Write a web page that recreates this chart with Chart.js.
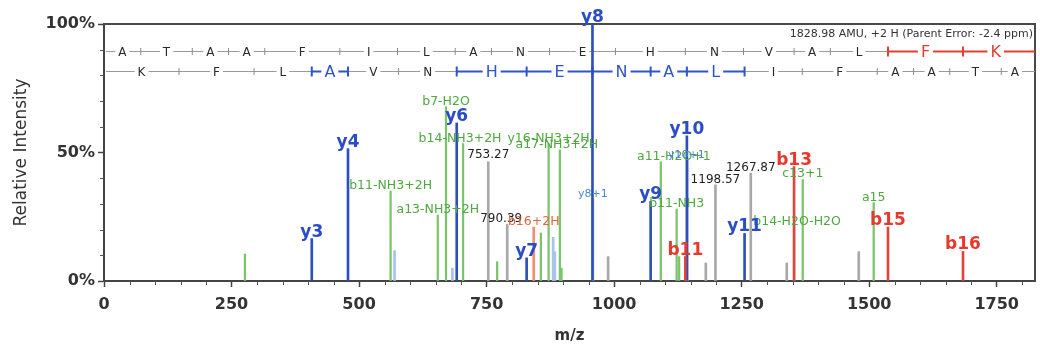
<!DOCTYPE html>
<html>
<head>
<meta charset="utf-8">
<script src="https://cdn.jsdelivr.net/npm/chart.js@4/dist/chart.umd.min.js"></script>
<style>
  html, body { margin: 0; padding: 0; background: #fff; }
</style>
</head>
<body>
<canvas id="spectrum" width="1040" height="349"></canvas>
<script>
// Peaks: m/z and relative intensity (%)
const yIonMz = [407.27, 478.30, 691.41, 828.47, 957.52, 1071.56, 1142.60, 1255.68];
const yIonInt = [16.5, 51.5, 61.5, 9, 100, 31, 56.5, 18.5];
const yIonName = ['y3', 'y4', 'y6', 'y7', 'y8', 'y9', 'y10', 'y11'];

const bIonMz = [1139.58, 1352.69, 1536.81, 1683.88];
const bIonInt = [9.5, 44.5, 21, 11.5];
const bIonName = ['b11', 'b13', 'b15', 'b16'];

const doubleMz = [842.4];
const doubleInt = [21];
const doubleName = ['b16+2H'];

const lossMz = [276.3, 561.8, 654.3, 670.4, 703.85, 770.7, 856.4, 871.5, 893.6, 896.9, 1091.5, 1122.55, 1127.4, 1352.69, 1369.72, 1508.8];
const lossInt = [10.5, 35, 25.7, 67.8, 53.5, 7.5, 18.7, 53.5, 51, 5, 46.4, 28, 9.5, 21, 39.5, 30.5];
const lossName = ['', 'b11-NH3+2H', 'a13-NH3+2H', 'b7-H2O', 'b14-NH3+2H', '', '', 'y16-NH3+2H', 'a17-NH3+2H', '', 'a11-H2O+1', 'b11-NH3', '', 'b14-H2O-H2O', 'c13+1', 'a15'];

const isoMz = [569.6, 683.0, 880.5, 883.8, 958.52, 1143.60];
const isoInt = [11.8, 5, 17, 11.4, 32, 47];
const isoName = ['', '', '', '', 'y8+1', 'y10+1'];

const otherMz = [753.27, 790.39, 988.2, 1179.7, 1198.57, 1267.87, 1338.4, 1479.5];
const otherInt = [46.4, 22, 9.5, 7, 37.4, 42, 7, 11.4];
const otherName = ['753.27', '790.39', '', '', '1198.57', '1267.87', '', ''];

// Sequence ladders
const seqTop = ['A', 'T', 'A', 'A', 'F', 'I', 'L', 'A', 'N', 'E', 'H', 'N', 'V', 'A', 'L', 'F', 'K'];
const seqBottom = ['K', 'F', 'L', 'A', 'V', 'N', 'H', 'E', 'N', 'A', 'L', 'I', 'F', 'A', 'A', 'T', 'A'];
const bLadder = [72.04, 173.09, 244.13, 315.16, 462.23, 575.32, 688.40, 759.44, 873.48, 1002.52, 1139.58, 1253.63, 1352.69, 1423.73, 1536.81, 1683.88];
const yLadder = [147.11, 294.18, 407.27, 478.30, 577.37, 691.41, 828.47, 957.52, 1071.56, 1142.60, 1255.68, 1368.76, 1515.83, 1586.87, 1657.91, 1758.96];
const ladderEnd = 1812.0;
const topCovered = [15, 16];
const bottomCovered = [3, 6, 7, 8, 9, 10];

const xTicks = [0, 250, 500, 750, 1000, 1250, 1500, 1750];
const parentNote = '1828.98 AMU, +2 H (Parent Error: -2.4 ppm)';

const FONT = '"DejaVu Sans", sans-serif';

// small label nudges so overlapping names sit like the original
const labelShift = {
    'b14-NH3+2H': [-3, 0],
    'a17-NH3+2H': [-3, 0],
    'a11-H2O+1': [13, 0],
    'y10+1': [-1, 0],
    '790.39': [-6, 0],
    'b14-H2O-H2O': [3, 0],
    '753.27': [0, -2]
};

function peakSet(mz, intensity, color, order, width) {
    return {
        data: mz.map((m, i) => ({ x: m, y: intensity[i] })),
        backgroundColor: color,
        barThickness: width,
        grouped: false,
        order: order
    };
}

function drawLadder(ctx, xs, area, yPos, letters, ladder, covered, hi) {
    const edges = [0, ...ladder, ladderEnd].map(v => xs.getPixelForValue(v));
    ctx.strokeStyle = '#9a9a9a';
    ctx.lineWidth = 1;
    ctx.beginPath();
    ctx.moveTo(area.left + 2, yPos);
    ctx.lineTo(area.right, yPos);
    ctx.stroke();

    // coloured runs
    ctx.strokeStyle = hi;
    ctx.lineWidth = 2;
    covered.forEach(i => {
        const x1 = i === letters.length - 1 ? area.right : edges[i + 1];
        ctx.beginPath();
        ctx.moveTo(edges[i], yPos);
        ctx.lineTo(x1, yPos);
        ctx.stroke();
    });

    // cleavage ticks
    for (let e = 1; e <= ladder.length; e++) {
        const on = covered.includes(e - 1) || covered.includes(e);
        ctx.strokeStyle = on ? hi : '#8a8a8a';
        ctx.lineWidth = on ? 2 : 1;
        const h = on ? 5 : 3.5;
        ctx.beginPath();
        ctx.moveTo(edges[e], yPos - h);
        ctx.lineTo(edges[e], yPos + h);
        ctx.stroke();
    }

    // residues
    ctx.textAlign = 'center';
    ctx.textBaseline = 'middle';
    letters.forEach((ch, i) => {
        const cx = (edges[i] + edges[i + 1]) / 2;
        const on = covered.includes(i);
        ctx.font = (on ? '16px ' : '12px ') + FONT;
        const w = ctx.measureText(ch).width;
        ctx.fillStyle = '#fff';
        ctx.fillRect(cx - w / 2 - 3, yPos - 4, w + 6, 8);
        ctx.fillStyle = on ? hi : '#2a2a2a';
        ctx.fillText(ch, cx, yPos + 1);
    });
}

const spectrumDecor = {
    id: 'spectrumDecor',
    beforeDatasetsDraw(chart) {
        const { ctx, chartArea: a, scales: { x, y } } = chart;
        ctx.save();

        // frame top and right
        ctx.strokeStyle = '#4a4a4a';
        ctx.lineWidth = 2;
        ctx.beginPath();
        ctx.moveTo(a.left, a.top);
        ctx.lineTo(a.right, a.top);
        ctx.lineTo(a.right, a.bottom);
        ctx.stroke();

        // minor ticks
        ctx.strokeStyle = '#555';
        ctx.lineWidth = 1;
        for (let v = 10; v < 100; v += 10) {
            if (v === 50) continue;
            const py = Math.round(y.getPixelForValue(v)) + 0.5;
            ctx.beginPath();
            ctx.moveTo(a.left - 4, py);
            ctx.lineTo(a.left, py);
            ctx.stroke();
        }
        for (let v = 50; v < x.max; v += 50) {
            if (v % 250 === 0) continue;
            const px = Math.round(x.getPixelForValue(v)) + 0.5;
            ctx.beginPath();
            ctx.moveTo(px, a.bottom);
            ctx.lineTo(px, a.bottom + 4);
            ctx.stroke();
        }

        // parent mass note
        ctx.font = '11px ' + FONT;
        ctx.fillStyle = '#333';
        ctx.textAlign = 'right';
        ctx.textBaseline = 'middle';
        ctx.fillText(parentNote, a.right - 2, a.top + 10);

        drawLadder(ctx, x, a, a.top + 27.5, seqTop, bLadder, topCovered, '#e2402f');
        drawLadder(ctx, x, a, a.top + 47.5, seqBottom, yLadder, bottomCovered, '#2f55c8');
        ctx.restore();
    },
    afterDatasetsDraw(chart) {
        const { ctx, scales: { x, y } } = chart;
        const groups = [
            [otherMz, otherInt, otherName, '12px ' + FONT, '#1e1e1e'],
            [lossMz, lossInt, lossName, '12.5px ' + FONT, '#4fa83f'],
            [isoMz, isoInt, isoName, '11px ' + FONT, '#4a86e0'],
            [doubleMz, doubleInt, doubleName, '12.5px ' + FONT, '#e8643c'],
            [yIonMz, yIonInt, yIonName, 'bold 17px ' + FONT, '#2a4cc4'],
            [bIonMz, bIonInt, bIonName, 'bold 17px ' + FONT, '#e43a2c']
        ];
        ctx.save();
        ctx.textAlign = 'center';
        ctx.textBaseline = 'alphabetic';
        groups.forEach(([mz, inten, names, font, color]) => {
            ctx.font = font;
            ctx.fillStyle = color;
            names.forEach((name, i) => {
                if (!name) return;
                const [dx, dy] = labelShift[name] || [0, 0];
                const px = x.getPixelForValue(mz[i]);
                const py = y.getPixelForValue(inten[i]);
                ctx.fillText(name, px + dx, py - 2 + dy);
            });
        });
        ctx.restore();
    }
};

new Chart(document.getElementById('spectrum'), {
    type: 'bar',
    data: {
        datasets: [
            peakSet(bIonMz, bIonInt, '#e0443a', 0, 2),
            peakSet(yIonMz, yIonInt, '#2c50b8', 1, 2),
            peakSet(doubleMz, doubleInt, '#f09070', 2, 2),
            peakSet(lossMz, lossInt, '#7cc46c', 3, 1.6),
            peakSet(isoMz, isoInt, '#a9c3ea', 4, 2),
            peakSet(otherMz, otherInt, '#a8a8a8', 5, 2)
        ]
    },
    options: {
        responsive: false,
        animation: false,
        layout: { padding: { top: 24, right: 5, left: 0, bottom: 0 } },
        plugins: {
            legend: { display: false },
            tooltip: { enabled: false }
        },
        scales: {
            x: {
                type: 'linear',
                min: 0,
                max: 1825,
                offset: false,
                afterBuildTicks: s => { s.ticks = xTicks.map(v => ({ value: v })); },
                afterFit: s => { s.height = 68; },
                ticks: {
                    stepSize: 250,
                    autoSkip: false,
                    maxRotation: 0,
                    padding: 8,
                    color: '#333',
                    font: { family: FONT, size: 16, weight: 'bold' },
                    callback: v => String(v)
                },
                grid: { drawOnChartArea: false, offset: false, tickLength: 6, color: '#444', tickWidth: 1.5 },
                border: { color: '#444', width: 2 },
                title: {
                    display: true,
                    text: 'm/z',
                    color: '#333',
                    font: { family: FONT, size: 15, weight: 'bold' },
                    padding: { top: 0, bottom: 4 }
                }
            },
            y: {
                min: 0,
                max: 100,
                afterFit: s => { s.width = 104; },
                ticks: {
                    stepSize: 50,
                    padding: 3,
                    color: '#333',
                    font: { family: FONT, size: 16, weight: 'bold' },
                    callback: v => v + '%'
                },
                grid: { drawOnChartArea: false, tickLength: 6, color: '#444', tickWidth: 1.5 },
                border: { color: '#444', width: 2 },
                title: {
                    display: true,
                    text: 'Relative Intensity',
                    color: '#333',
                    font: { family: FONT, size: 17 },
                    padding: { top: 11, bottom: 0 }
                }
            }
        }
    },
    plugins: [spectrumDecor]
});
</script>
</body>
</html>
